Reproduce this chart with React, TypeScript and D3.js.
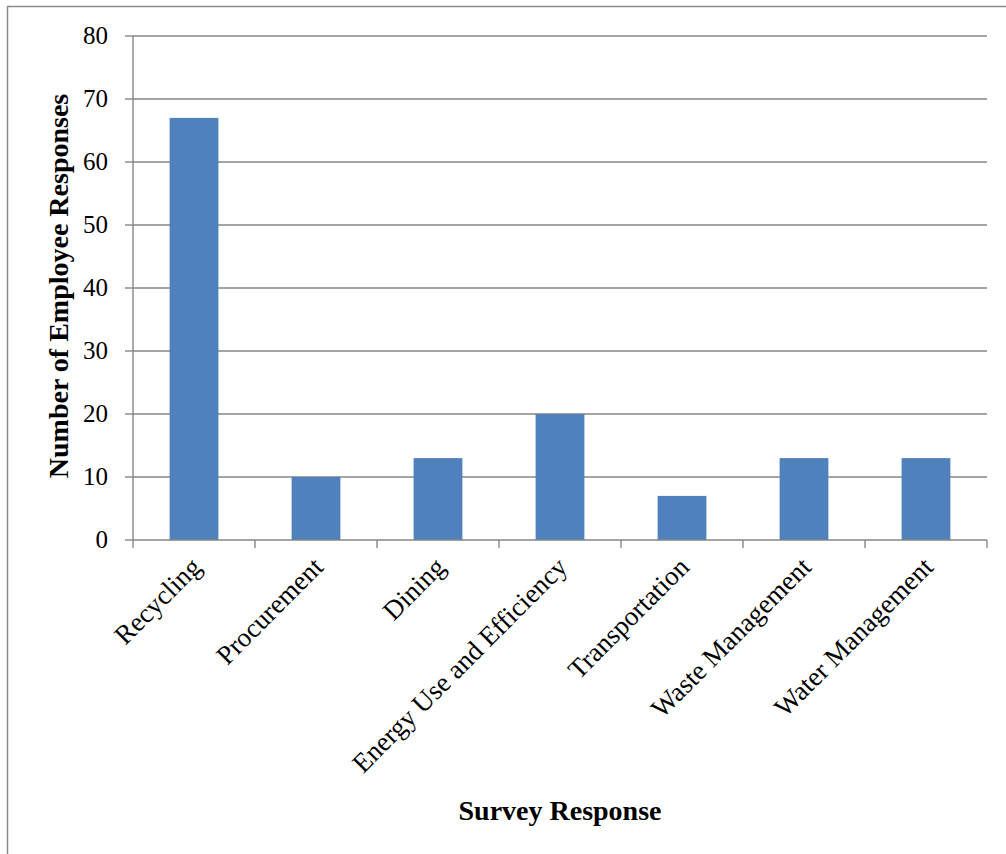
import React from 'react';
import * as d3 from 'd3';

const categories = [
  'Recycling',
  'Procurement',
  'Dining',
  'Energy Use and Efficiency',
  'Transportation',
  'Waste Management',
  'Water Management',
];
const responses = [67, 10, 13, 20, 7, 13, 13];
const yTicks = [0, 10, 20, 30, 40, 50, 60, 70, 80];

const W = 1006;
const H = 854;
const plot = { left: 133, right: 987, top: 36, bottom: 540 };
const font = '"Liberation Serif", "DejaVu Serif", serif';
const gridColor = '#868686';

const App: React.FC = () => {
  const x = d3.scaleBand<string>().domain(categories).range([plot.left, plot.right]).paddingInner(0.6).paddingOuter(0.3);
  const xBand = d3.scaleBand<string>().domain(categories).range([plot.left, plot.right]);
  const y = d3.scaleLinear().domain([0, 80]).range([plot.bottom, plot.top]);

  return (
    <svg width={W} height={H} style={{ position: 'absolute', left: 0, top: 0, background: '#fff' }}>
      <rect x={7.5} y={6.5} width={1010} height={870} fill="none" stroke="#8c8c8c" strokeWidth={1.5} />

      {yTicks.map((t) => (
        <g key={t}>
          {t > 0 && (
            <line x1={plot.left} x2={plot.right} y1={y(t)} y2={y(t)} stroke={gridColor} strokeWidth={1.4} />
          )}
          <line x1={plot.left - 8} x2={plot.left} y1={y(t)} y2={y(t)} stroke={gridColor} strokeWidth={1.4} />
          <text x={plot.left - 25} y={y(t)} dy="0.33em" textAnchor="end" fontFamily={font} fontSize={25} fill="#000">
            {t}
          </text>
        </g>
      ))}

      {categories.map((c, i) => (
        <rect key={c} x={x(c)} y={y(responses[i])} width={x.bandwidth()} height={y(0) - y(responses[i])} fill="#4F81BD" />
      ))}

      <line x1={plot.left} x2={plot.left} y1={plot.top} y2={plot.bottom} stroke={gridColor} strokeWidth={1.4} />
      <line x1={plot.left} x2={plot.right} y1={plot.bottom} y2={plot.bottom} stroke={gridColor} strokeWidth={1.4} />
      {categories.concat(['end']).map((c, i) => {
        const tx = plot.left + i * xBand.bandwidth();
        return <line key={c} x1={tx} x2={tx} y1={plot.bottom} y2={plot.bottom + 8} stroke={gridColor} strokeWidth={1.4} />;
      })}

      {categories.map((c) => {
        const cx = (xBand(c) ?? 0) + xBand.bandwidth() / 2 + 2;
        const cy = plot.bottom + 22;
        return (
          <text
            key={c}
            transform={`translate(${cx},${cy}) rotate(-45)`}
            textAnchor="end"
            dy="0.35em"
            fontFamily={font}
            fontSize={27}
            fill="#000"
          >
            {c}
          </text>
        );
      })}

      <text
        transform={`translate(68,${(plot.top + plot.bottom) / 2 - 2}) rotate(-90)`}
        textAnchor="middle"
        fontFamily={font}
        fontWeight="bold"
        fontSize={28}
        fill="#000"
      >
        Number of Employee Responses
      </text>
      <text x={(plot.left + plot.right) / 2} y={820} textAnchor="middle" fontFamily={font} fontWeight="bold" fontSize={28} fill="#000">
        Survey Response
      </text>
    </svg>
  );
};

export default App;
